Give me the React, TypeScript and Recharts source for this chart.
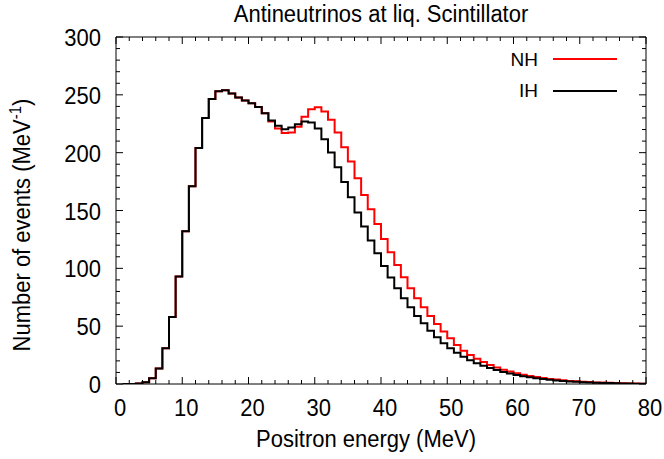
import React from 'react'
import { LineChart, Line, XAxis, YAxis } from 'recharts'

const FONT = '"Liberation Sans", Arial, Helvetica, sans-serif'
const STRETCH = 1.12

// lower edge of every 1 MeV bin, the last entry closes the final step
const binLow = [
  1, 2, 3, 4, 5, 6, 7, 8, 9, 10, 11, 12, 13, 14, 15, 16, 17, 18, 19, 20,
  21, 22, 23, 24, 25, 26, 27, 28, 29, 30, 31, 32, 33, 34, 35, 36, 37, 38, 39, 40,
  41, 42, 43, 44, 45, 46, 47, 48, 49, 50, 51, 52, 53, 54, 55, 56, 57, 58, 59, 60,
  61, 62, 63, 64, 65, 66, 67, 68, 69, 70, 71, 72, 73, 74, 75, 76, 77, 78, 79, 80,
]

// inverted hierarchy (black)
const ihEvents = [
  0, 0, 0.5, 1.5, 5, 13.5, 31, 58, 93, 132, 171, 204, 230, 246.5, 253, 254, 251.2, 247.8, 245, 242.8,
  239.5, 234, 227.8, 223.2, 220.3, 221.7, 224.6, 226.9, 226, 220.9, 211.7, 200.1, 187.4, 174.7, 161.5, 148.2, 136.1, 124, 113, 102,
  92, 82.7, 74.1, 66.3, 58.8, 52.5, 46.1, 40.4, 35.2, 30.9, 27.1, 23.6, 20.5, 18, 15.8, 13.8, 12, 10.4, 9, 7.8,
  6.7, 5.8, 5, 4.3, 3.6, 3.1, 2.6, 2.2, 1.9, 1.6, 1.3, 1.1, 0.9, 0.8, 0.6, 0.5, 0.4, 0.3, 0.3, 0.3,
]

// normal hierarchy (red)
const nhEvents = [
  0, 0, 0.5, 1.5, 5, 13.5, 31, 58, 93, 132, 171, 204, 230, 246.5, 253, 254, 251.2, 247.8, 245, 242.8,
  239.5, 234, 227, 221, 216.9, 217.5, 222.5, 231, 237.6, 239.3, 235.6, 228.4, 217.4, 204.7, 192.3, 177.9, 163.5, 151, 138.4, 125.4,
  113.9, 102.9, 92.3, 82.7, 74.1, 66.3, 58.8, 51.9, 45.3, 39.5, 33.7, 28.8, 25.1, 21.8, 19, 16.5, 14.3, 12.4, 10.8, 9.3,
  8, 6.9, 6, 5.1, 4.4, 3.8, 3.2, 2.7, 2.3, 2, 1.7, 1.4, 1.2, 1, 0.8, 0.7, 0.5, 0.4, 0.3, 0.3,
]

const xTicks = [
  0, 2, 4, 6, 8, 10, 12, 14, 16, 18, 20, 22, 24, 26, 28, 30, 32, 34, 36, 38, 40,
  42, 44, 46, 48, 50, 52, 54, 56, 58, 60, 62, 64, 66, 68, 70, 72, 74, 76, 78, 80,
]
const yTicks = [
  0, 10, 20, 30, 40, 50, 60, 70, 80, 90, 100, 110, 120, 130, 140, 150,
  160, 170, 180, 190, 200, 210, 220, 230, 240, 250, 260, 270, 280, 290, 300,
]

const data = binLow.map((e, i) => ({ e, nh: nhEvents[i], ih: ihEvents[i] }))

const MAJOR = 7
const MINOR = 4

// gnuplot-ish text: slightly taller than it is wide
function Txt({ x, y, anchor = 'start', size = 22, rotate = 0, children }: any) {
  return (
    <text
      transform={`translate(${x},${y}) rotate(${rotate}) scale(1,${STRETCH})`}
      textAnchor={anchor}
      fontFamily={FONT}
      fontSize={size}
      fill="#000"
    >
      {children}
    </text>
  )
}

function BottomTick(props: any) {
  const { x, y, payload } = props
  const major = payload.value % 10 === 0
  return (
    <g>
      <line x1={x} y1={y} x2={x} y2={y - (major ? MAJOR : MINOR)} stroke="#000" />
      {major && (
        <Txt x={x + 4} y={y + 32} anchor="middle">
          {payload.value}
        </Txt>
      )}
    </g>
  )
}

function TopTick(props: any) {
  const { x, y, payload } = props
  const major = payload.value % 10 === 0
  return <line x1={x} y1={y} x2={x} y2={y + (major ? MAJOR : MINOR)} stroke="#000" />
}

function LeftTick(props: any) {
  const { x, y, payload } = props
  const major = payload.value % 50 === 0
  return (
    <g>
      <line x1={x} y1={y} x2={x + (major ? MAJOR : MINOR)} y2={y} stroke="#000" />
      {major && (
        <Txt x={x - 15} y={y + 9} anchor="end">
          {payload.value}
        </Txt>
      )}
    </g>
  )
}

function RightTick(props: any) {
  const { x, y, payload } = props
  const major = payload.value % 50 === 0
  return <line x1={x} y1={y} x2={x - (major ? MAJOR : MINOR)} y2={y} stroke="#000" />
}

const axisCommon = {
  type: 'number' as const,
  interval: 0 as const,
  tickSize: 0,
  tickMargin: 0,
  tickLine: false,
  axisLine: { stroke: '#000', strokeWidth: 1 },
  allowDataOverflow: true,
}

export default function App() {
  return (
    <div style={{ position: 'absolute', left: 0, top: 0, width: 664, height: 459, background: '#fff' }}>
      <LineChart width={664} height={459} data={data} margin={{ top: 0, right: 0, bottom: 0, left: 0 }}>
        <XAxis {...axisCommon} xAxisId="b" dataKey="e" domain={[0, 80]} ticks={xTicks} height={75} tick={BottomTick} />
        <XAxis {...axisCommon} xAxisId="t" orientation="top" dataKey="e" domain={[0, 80]} ticks={xTicks} height={37} tick={TopTick} />
        <YAxis {...axisCommon} yAxisId="l" domain={[0, 300]} ticks={yTicks} width={116} tick={LeftTick} />
        <YAxis {...axisCommon} yAxisId="r" orientation="right" domain={[0, 300]} ticks={yTicks} width={18} tick={RightTick} />
        <Line xAxisId="b" yAxisId="l" type="stepAfter" dataKey="nh" stroke="#ff0000" strokeWidth={2} dot={false} isAnimationActive={false} />
        <Line xAxisId="b" yAxisId="l" type="stepAfter" dataKey="ih" stroke="#000000" strokeWidth={2} dot={false} isAnimationActive={false} />
      </LineChart>
      <svg width={664} height={459} style={{ position: 'absolute', left: 0, top: 0, pointerEvents: 'none' }}>
        <Txt x={381} y={22} anchor="middle">Antineutrinos at liq. Scintillator</Txt>
        <Txt x={366} y={447} anchor="middle">Positron energy (MeV)</Txt>
        <Txt x={30} y={225} anchor="middle" rotate={-90}>
          Number of events (MeV<tspan dy={-8} fontSize={15}>-1</tspan><tspan dy={8}>)</tspan>
        </Txt>
        <text x={538} y={66} textAnchor="end" fontFamily={FONT} fontSize={19} fill="#000">NH</text>
        <line x1={553} y1={59} x2={617} y2={59} stroke="#ff0000" strokeWidth={2} />
        <text x={538} y={97} textAnchor="end" fontFamily={FONT} fontSize={19} fill="#000">IH</text>
        <line x1={553} y1={91} x2={617} y2={91} stroke="#000" strokeWidth={2} />
      </svg>
    </div>
  )
}
